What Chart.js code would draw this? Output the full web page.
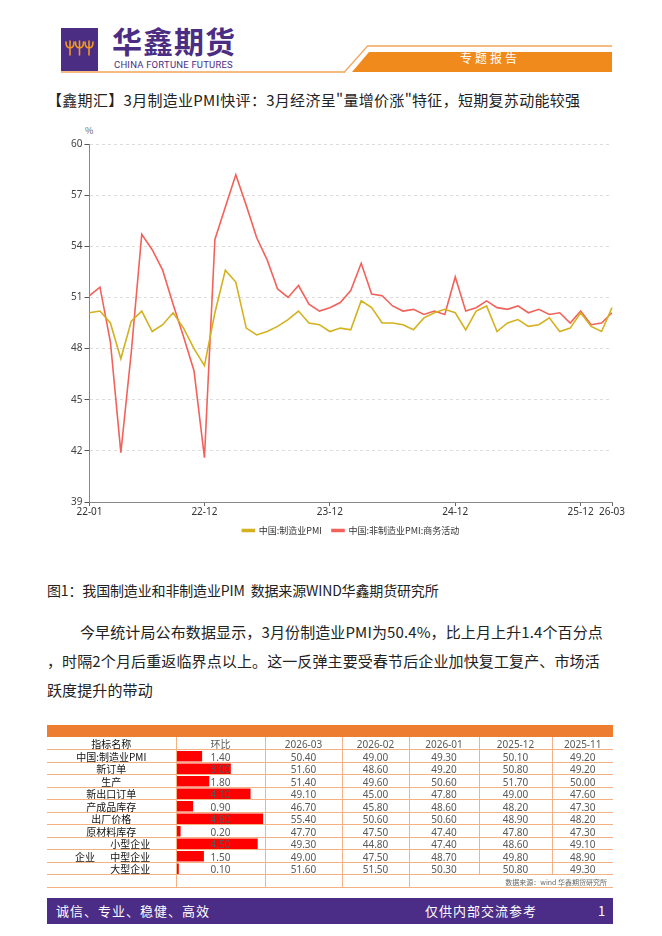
<!DOCTYPE html>
<html lang="zh-CN">
<head>
<meta charset="utf-8">
<title>华鑫期货 专题报告</title>
<script src="https://cdn.jsdelivr.net/npm/chart.js@4.4.1/dist/chart.umd.min.js"></script>
<style>
  body { margin:0; background:#fff; font-family:'Noto Sans CJK SC','Noto Sans',sans-serif; }
  .page { position:relative; width:662px; height:936px; overflow:hidden; background:#fff; }
  .abs { position:absolute; white-space:nowrap; }
  .logo { left:61px; top:28px; width:37px; height:43px; background:#4b2d84; }
  .brand { left:112px; top:22px; font-size:30px; line-height:36px; font-weight:700; color:#4b2d84; letter-spacing:1px; }
  .brand-en { left:114px; top:59px; font-family:'Roboto','Noto Sans',sans-serif; font-size:9.5px; line-height:12px; color:#4b2d84; letter-spacing:0.2px; }
  .tag { left:440px; top:49px; width:100px; text-align:center; font-size:12px; line-height:18px; color:#fff; letter-spacing:3px; }
  .title { left:47px; top:89px; font-size:15px; line-height:22px; color:#222; letter-spacing:0.3px; }
  .pct { left:85px; top:124px; font-size:9px; color:#666; }
  #chartBox { left:40px; top:118px; width:590px; height:427px; }
  .caption { left:47px; top:579px; font-size:14px; line-height:22px; color:#222; letter-spacing:-0.15px; }
  .para { font-size:15px; line-height:22px; color:#222; letter-spacing:0.12px; }
  .band { left:47px; top:725px; width:566px; height:12px; background:#ed7d31; }
  #tbl { position:absolute; left:47px; top:737px; width:566px; border-collapse:collapse; table-layout:fixed; z-index:2; }
  #tbl td { padding:1.5px 0 0 0; border:1px solid #f4b183; text-align:center; vertical-align:middle; font-family:'Noto Sans','Noto Sans CJK SC',sans-serif; font-size:10px; line-height:10px; color:#595959; white-space:nowrap; overflow:visible; position:relative; }
  #tbl tr td:first-child { border-left:none; color:#111; font-family:'Noto Sans CJK SC',sans-serif; }
  #tbl tr td:last-child { border-right:none; }
  #tbl tr.hd td { height:10.5px; border-top:none; }
  #tbl tr.row td { height:10px; }
  #tbl tr.src td { height:9.5px; }
  #tbl td.sub span.nm { padding-left:38px; }
  #tbl td .grp { position:absolute; left:28px; top:1.5px; }
  #tbl td.source { text-align:right; font-size:7px; color:#666; padding-right:6px; font-family:'Noto Sans CJK SC',sans-serif; }
  #barBox { left:177px; top:750px; width:87px; height:125px; z-index:1; }
  .foot { left:47px; top:898px; width:566px; height:26px; background:#4b2c86; }
  .foot span { position:absolute; top:4px; font-size:13px; line-height:18px; color:#fff; letter-spacing:1px; }
</style>
</head>
<body>
<div class="page">
  <!-- header -->
  <div class="abs logo">
    <svg width="37" height="43" viewBox="0 0 37 43">
      <g stroke="#f39a1e" stroke-width="1.6" fill="none" stroke-linecap="round">
        <path d="M5 14 Q5 20 9 20 Q13 20 13 14 M9 13 L9 27"/>
        <path d="M14.5 14 Q14.5 20 18.5 20 Q22.5 20 22.5 14 M18.5 13 L18.5 27"/>
        <path d="M24 14 Q24 20 28 20 Q32 20 32 14 M28 13 L28 27"/>
      </g>
    </svg>
  </div>
  <div class="abs brand">华鑫期货</div>
  <div class="abs brand-en">CHINA FORTUNE FUTURES</div>
  <svg class="abs" style="left:0;top:0" width="662" height="80">
    <polygon points="352,72 369,52 612,52 612,72" fill="#f08a1c"/>
    <line x1="61" y1="72" x2="345" y2="72" stroke="#f2a45a" stroke-width="1.5"/>
    <line x1="344" y1="72.5" x2="368" y2="45.5" stroke="#f2a45a" stroke-width="1.2"/>
    <line x1="368" y1="46" x2="612" y2="46" stroke="#f2a45a" stroke-width="1.5"/>
  </svg>
  <div class="abs tag">专题报告</div>

  <div class="abs title">【鑫期汇】3月制造业PMI快评：3月经济呈"量增价涨"特征，短期复苏动能较强</div>

  <!-- chart -->
  <div class="abs pct">%</div>
  <div class="abs" id="chartBox"><canvas id="pmiChart"></canvas></div>

  <div class="abs caption">图1：我国制造业和非制造业PIM&nbsp;&nbsp;数据来源WIND华鑫期货研究所</div>

  <div class="abs para" style="left:80px;top:621px">今早统计局公布数据显示，3月份制造业PMI为50.4%，比上月上升1.4个百分点</div>
  <div class="abs para" style="left:47px;top:650px">，时隔2个月后重返临界点以上。这一反弹主要受春节后企业加快复工复产、市场活</div>
  <div class="abs para" style="left:47px;top:679px">跃度提升的带动</div>

  <!-- table -->
  <div class="abs band"></div>
  <div class="abs" id="barBox"><canvas id="momChart"></canvas></div>
  <table id="tbl">
    <colgroup>
      <col style="width:129px"><col style="width:89px"><col style="width:77px"><col style="width:67px">
      <col style="width:70px"><col style="width:73px"><col style="width:61px">
    </colgroup>
    <tbody id="tbody"></tbody>
  </table>

  <div class="abs foot">
    <span style="left:9px">诚信、专业、稳健、高效</span>
    <span style="left:378px">仅供内部交流参考</span>
    <span style="left:551px">1</span>
  </div>
</div>

<script>
// ---- line chart data ----
const months = [
  '22-01','22-02','22-03','22-04','22-05','22-06','22-07','22-08','22-09','22-10','22-11','22-12',
  '23-01','23-02','23-03','23-04','23-05','23-06','23-07','23-08','23-09','23-10','23-11','23-12',
  '24-01','24-02','24-03','24-04','24-05','24-06','24-07','24-08','24-09','24-10','24-11','24-12',
  '25-01','25-02','25-03','25-04','25-05','25-06','25-07','25-08','25-09','25-10','25-11','25-12',
  '26-01','26-02','26-03'
]
const mfgPMI = [
  50.1,50.2,49.5,47.4,49.6,50.2,49.0,49.4,50.1,49.2,48.0,47.0,
  50.1,52.6,51.9,49.2,48.8,49.0,49.3,49.7,50.2,49.5,49.4,49.0,
  49.2,49.1,50.8,50.4,49.5,49.5,49.4,49.1,49.8,50.1,50.3,50.1,
  49.1,50.2,50.5,49.0,49.5,49.7,49.3,49.4,49.8,49.0,49.2,50.1,
  49.3,49.0,50.4
]
const nonMfgPMI = [
  51.1,51.6,48.4,41.9,47.8,54.7,53.8,52.6,50.6,48.7,46.7,41.6,
  54.4,56.3,58.2,56.4,54.5,53.2,51.5,51.0,51.7,50.6,50.2,50.4,
  50.7,51.4,53.0,51.2,51.1,50.5,50.2,50.3,50.0,50.2,50.0,52.2,
  50.2,50.4,50.8,50.4,50.3,50.5,50.1,50.3,50.0,50.1,49.5,50.2,
  49.4,49.5,50.1
]
const xTickLabels = ['22-01','22-12','23-12','24-12','25-12','26-03']
const yTickValues = [39,42,45,48,51,54,57,60]
const seriesNames = ['中国:制造业PMI','中国:非制造业PMI:商务活动']

// ---- table data ----
const indicators = ['中国:制造业PMI','新订单','生产','新出口订单','产成品库存','出厂价格','原材料库存','小型企业','中型企业','大型企业']
const periods = ['2026-03','2026-02','2026-01','2025-12','2025-11']
const momChange = [1.40,3.00,1.80,4.10,0.90,4.80,0.20,4.50,1.50,0.10]
const v202603 = [50.40,51.60,51.40,49.10,46.70,55.40,47.70,49.30,49.00,51.60]
const v202602 = [49.00,48.60,49.60,45.00,45.80,50.60,47.50,44.80,47.50,51.50]
const v202601 = [49.30,49.20,50.60,47.80,48.60,50.60,47.40,47.40,48.70,50.30]
const v202512 = [50.10,50.80,51.70,49.00,48.20,48.90,47.80,48.60,49.80,50.80]
const v202511 = [49.20,49.20,50.00,47.60,47.30,48.20,47.30,49.10,48.90,49.30]

const yellow = '#d4b11e'
const red = '#f2625a'

new Chart(document.getElementById('pmiChart'), {
  type: 'line',
  data: {
    labels: months,
    datasets: [
      { label: seriesNames[0], data: mfgPMI, borderColor: yellow, backgroundColor: yellow, borderWidth: 1.6, pointRadius: 0, tension: 0 },
      { label: seriesNames[1], data: nonMfgPMI, borderColor: red, backgroundColor: red, borderWidth: 1.6, pointRadius: 0, tension: 0 }
    ]
  },
  options: {
    responsive: true,
    maintainAspectRatio: false,
    animation: false,
    layout: { padding: { top: 26, right: 18, left: 0, bottom: 0 } },
    plugins: {
      tooltip: { enabled: false },
      legend: {
        position: 'bottom',
        fullSize: false,
        labels: { boxWidth: 12, boxHeight: 2, padding: 10, color: '#333', font: { size: 9, family: "'Noto Sans CJK SC'" } }
      }
    },
    scales: {
      x: {
        afterFit: s => { s.height = 14 },
        ticks: {
          autoSkip: false, maxRotation: 0, minRotation: 0, padding: 0,
          color: '#333', font: { size: 10, family: "'Noto Sans','Noto Sans CJK SC'" },
          callback: function(v, i) { const l = months[i]; return xTickLabels.includes(l) ? l : '' }
        },
        grid: {
          drawOnChartArea: false, tickLength: 4,
          tickColor: ctx => (ctx.tick && xTickLabels.includes(months[ctx.tick.value])) ? '#666' : 'rgba(0,0,0,0)'
        },
        border: { color: '#888', width: 1 }
      },
      y: {
        min: 39, max: 60,
        afterBuildTicks: s => { s.ticks = yTickValues.map(v => ({ value: v })) },
        afterFit: s => { s.width = 49.5 },
        ticks: { color: '#444', padding: 2, font: { size: 10, family: "'Noto Sans'" } },
        grid: { color: '#dcdcdc', tickColor: '#555', tickLength: 5 },
        border: { color: '#888', width: 1, dash: [3, 3] }
      }
    }
  }
})

// table body
const cols = [v202603, v202602, v202601, v202512, v202511]
let html = '<tr class="hd"><td>指标名称</td><td>环比</td>' + periods.map(p => '<td>' + p + '</td>').join('') + '</tr>'
indicators.forEach((name, i) => {
  const sub = i >= 7
  let nameCell = sub ? '<td class="sub"><span class="nm">' + name + '</span>' + (i === 8 ? '<span class="grp">企业</span>' : '') + '</td>'
                     : '<td>' + name + '</td>'
  html += '<tr class="row">' + nameCell + '<td>' + momChange[i].toFixed(2) + '</td>' +
          cols.map(c => '<td>' + c[i].toFixed(2) + '</td>').join('') + '</tr>'
})
html += '<tr class="src"><td></td><td></td><td></td><td></td><td colspan="3" class="source">数据来源：wind 华鑫期货研究所</td></tr>'
document.getElementById('tbody').innerHTML = html

new Chart(document.getElementById('momChart'), {
  type: 'bar',
  data: {
    labels: indicators,
    datasets: [{ data: momChange, backgroundColor: '#ff0000', borderWidth: 0, barPercentage: 1, categoryPercentage: 0.84 }]
  },
  options: {
    indexAxis: 'y',
    responsive: true,
    maintainAspectRatio: false,
    animation: false,
    layout: { padding: 0 },
    plugins: { legend: { display: false }, tooltip: { enabled: false } },
    scales: {
      x: { display: false, min: 0, max: 4.85 },
      y: { display: false }
    }
  }
})
</script>
</body>
</html>
